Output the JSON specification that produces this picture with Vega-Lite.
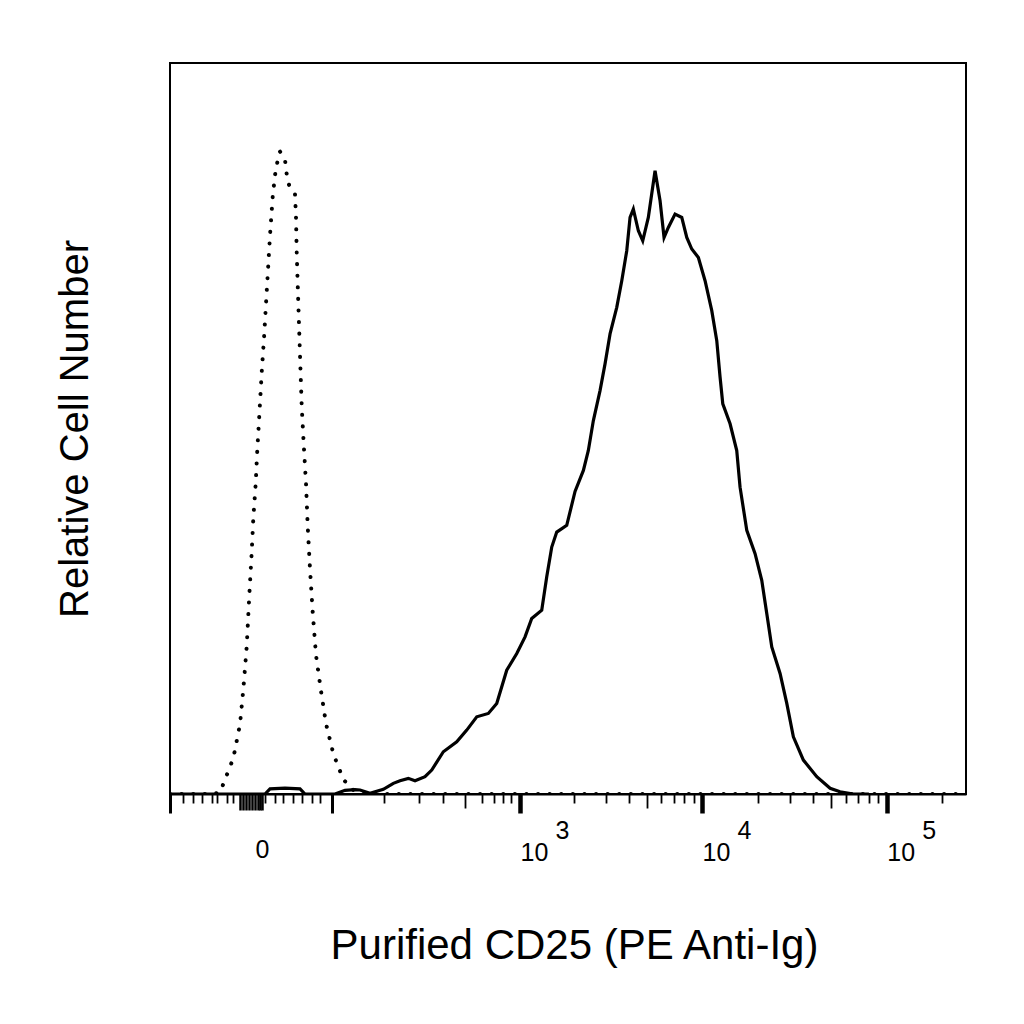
{
  "$schema": "https://vega.github.io/schema/vega-lite/v6.json",
  "autosize": {"type": "none"},
  "padding": {"left": 170, "top": 63, "right": 58, "bottom": 230},
  "width": 796,
  "height": 731,
  "background": "white",
  "config": {
    "font": "Liberation Sans",
    "view": {"stroke": "black", "strokeWidth": 2}
  },
  "data": {
    "values": [
      {"series": "isotype", "x": -90, "count": 0},
      {"series": "isotype", "x": -35.3, "count": 0},
      {"series": "isotype", "x": -28.8, "count": 0.22},
      {"series": "isotype", "x": -18.0, "count": 4.92},
      {"series": "isotype", "x": -13.2, "count": 9.6},
      {"series": "isotype", "x": -11.0, "count": 14.34},
      {"series": "isotype", "x": -8.8, "count": 20.22},
      {"series": "isotype", "x": -7.2, "count": 27.19},
      {"series": "isotype", "x": -5.75, "count": 33.06},
      {"series": "isotype", "x": -4.8, "count": 37.75},
      {"series": "isotype", "x": -3.43, "count": 42.49},
      {"series": "isotype", "x": -2.53, "count": 47.13},
      {"series": "isotype", "x": -1.44, "count": 51.82},
      {"series": "isotype", "x": -0.16, "count": 57.68},
      {"series": "isotype", "x": 1.06, "count": 62.38},
      {"series": "isotype", "x": 2.14, "count": 67.08},
      {"series": "isotype", "x": 3.26, "count": 71.75},
      {"series": "isotype", "x": 4.4, "count": 76.45},
      {"series": "isotype", "x": 5.98, "count": 81.72},
      {"series": "isotype", "x": 7.37, "count": 84.66},
      {"series": "isotype", "x": 8.81, "count": 86.41},
      {"series": "isotype", "x": 10.55, "count": 87.88},
      {"series": "isotype", "x": 13.92, "count": 86.75},
      {"series": "isotype", "x": 15.55, "count": 84.07},
      {"series": "isotype", "x": 17.5, "count": 82.92},
      {"series": "isotype", "x": 21.33, "count": 82.02},
      {"series": "isotype", "x": 22.12, "count": 78.83},
      {"series": "isotype", "x": 22.68, "count": 74.1},
      {"series": "isotype", "x": 23.98, "count": 67.08},
      {"series": "isotype", "x": 25.39, "count": 60.03},
      {"series": "isotype", "x": 26.84, "count": 53.01},
      {"series": "isotype", "x": 28.84, "count": 47.13},
      {"series": "isotype", "x": 30.62, "count": 42.49},
      {"series": "isotype", "x": 32.17, "count": 36.61},
      {"series": "isotype", "x": 34.33, "count": 30.74},
      {"series": "isotype", "x": 36.94, "count": 24.86},
      {"series": "isotype", "x": 40.25, "count": 18.99},
      {"series": "isotype", "x": 45.21, "count": 14.34},
      {"series": "isotype", "x": 51.17, "count": 9.6},
      {"series": "isotype", "x": 60.01, "count": 5.51},
      {"series": "isotype", "x": 73.54, "count": 1.98},
      {"series": "isotype", "x": 88.85, "count": 0.55},
      {"series": "isotype", "x": 112.6, "count": 0},
      {"series": "isotype", "x": 1000, "count": 0},
      {"series": "isotype", "x": 10000, "count": 0},
      {"series": "isotype", "x": 268000, "count": 0},
      {"series": "CD25", "x": -90, "count": 0},
      {"series": "CD25", "x": 1.6, "count": 0},
      {"series": "CD25", "x": 4.4, "count": 0.7},
      {"series": "CD25", "x": 13.9, "count": 0.8},
      {"series": "CD25", "x": 25.4, "count": 0.7},
      {"series": "CD25", "x": 29.7, "count": 0},
      {"series": "CD25", "x": 62.2, "count": 0},
      {"series": "CD25", "x": 76.0, "count": 0.5},
      {"series": "CD25", "x": 91.6, "count": 0.6},
      {"series": "CD25", "x": 100.2, "count": 0.55},
      {"series": "CD25", "x": 119.1, "count": 0.1},
      {"series": "CD25", "x": 148.1, "count": 0.64},
      {"series": "CD25", "x": 173.3, "count": 1.46},
      {"series": "CD25", "x": 191.9, "count": 1.82},
      {"series": "CD25", "x": 217.4, "count": 2.14},
      {"series": "CD25", "x": 240.0, "count": 1.82},
      {"series": "CD25", "x": 277.4, "count": 2.36},
      {"series": "CD25", "x": 305.2, "count": 3.28},
      {"series": "CD25", "x": 359.1, "count": 5.78},
      {"series": "CD25", "x": 431.9, "count": 7.14},
      {"series": "CD25", "x": 494.8, "count": 8.74},
      {"series": "CD25", "x": 565.9, "count": 10.56},
      {"series": "CD25", "x": 660.3, "count": 11.02},
      {"series": "CD25", "x": 737.6, "count": 12.39},
      {"series": "CD25", "x": 840.8, "count": 16.94},
      {"series": "CD25", "x": 958.4, "count": 19.22},
      {"series": "CD25", "x": 1067, "count": 21.49},
      {"series": "CD25", "x": 1163, "count": 24.0},
      {"series": "CD25", "x": 1323, "count": 25.14},
      {"series": "CD25", "x": 1410, "count": 29.69},
      {"series": "CD25", "x": 1504, "count": 33.78},
      {"series": "CD25", "x": 1603, "count": 35.83},
      {"series": "CD25", "x": 1821, "count": 36.75},
      {"series": "CD25", "x": 2024, "count": 41.39},
      {"series": "CD25", "x": 2250, "count": 44.26},
      {"series": "CD25", "x": 2396, "count": 46.99},
      {"series": "CD25", "x": 2553, "count": 51.09},
      {"series": "CD25", "x": 2778, "count": 55.19},
      {"series": "CD25", "x": 2959, "count": 58.84},
      {"series": "CD25", "x": 3152, "count": 62.94},
      {"series": "CD25", "x": 3430, "count": 66.57},
      {"series": "CD25", "x": 3654, "count": 70.22},
      {"series": "CD25", "x": 3890, "count": 74.32},
      {"series": "CD25", "x": 4055, "count": 78.87},
      {"series": "CD25", "x": 4226, "count": 80.01},
      {"series": "CD25", "x": 4501, "count": 77.05},
      {"series": "CD25", "x": 4756, "count": 75.68},
      {"series": "CD25", "x": 5101, "count": 78.87},
      {"series": "CD25", "x": 5550, "count": 85.25},
      {"series": "CD25", "x": 5910, "count": 81.15},
      {"series": "CD25", "x": 6213, "count": 76.13},
      {"series": "CD25", "x": 6557, "count": 77.5},
      {"series": "CD25", "x": 7131, "count": 79.33},
      {"series": "CD25", "x": 7754, "count": 78.87},
      {"series": "CD25", "x": 8256, "count": 76.13},
      {"series": "CD25", "x": 8788, "count": 74.55},
      {"series": "CD25", "x": 9545, "count": 73.4},
      {"series": "CD25", "x": 10378, "count": 70.22},
      {"series": "CD25", "x": 11285, "count": 66.12},
      {"series": "CD25", "x": 12012, "count": 62.02},
      {"series": "CD25", "x": 12520, "count": 57.01},
      {"series": "CD25", "x": 12950, "count": 53.37},
      {"series": "CD25", "x": 14183, "count": 50.64},
      {"series": "CD25", "x": 15414, "count": 46.99},
      {"series": "CD25", "x": 16065, "count": 41.98},
      {"series": "CD25", "x": 17469, "count": 36.07},
      {"series": "CD25", "x": 19375, "count": 32.88},
      {"series": "CD25", "x": 21059, "count": 29.23},
      {"series": "CD25", "x": 22416, "count": 24.69},
      {"series": "CD25", "x": 23860, "count": 20.12},
      {"series": "CD25", "x": 26460, "count": 16.49},
      {"series": "CD25", "x": 28770, "count": 12.39},
      {"series": "CD25", "x": 31230, "count": 7.83},
      {"series": "CD25", "x": 35380, "count": 4.64},
      {"series": "CD25", "x": 41800, "count": 2.36},
      {"series": "CD25", "x": 49350, "count": 0.78},
      {"series": "CD25", "x": 55860, "count": 0.31},
      {"series": "CD25", "x": 65940, "count": 0},
      {"series": "CD25", "x": 80000, "count": 0}
    ]
  },
  "encoding": {
    "y": {
      "field": "count",
      "type": "quantitative",
      "scale": {"domain": [0, 100], "nice": false},
      "axis": {
        "title": "Relative Cell Number",
        "titleFontSize": 40,
        "titleFontWeight": "normal",
        "titleColor": "black",
        "titleBaseline": "alphabetic",
        "titleX": -83,
        "labels": false,
        "ticks": false,
        "domain": false,
        "grid": false
      }
    }
  },
  "layer": [
    {
      "transform": [{"filter": "datum.series == 'CD25'"}],
      "mark": {"type": "line", "color": "black", "strokeWidth": 3.2, "clip": true},
      "encoding": {
        "x": {
          "field": "x",
          "type": "quantitative",
          "scale": {"type": "symlog", "constant": 42, "domain": [-90, 268000], "nice": false, "zero": false},
          "axis": {
            "orient": "bottom",
            "title": "Purified CD25 (PE Anti-Ig)",
            "titleFontSize": 42,
            "titleFontWeight": "normal",
            "titleColor": "black",
            "titleBaseline": "alphabetic",
            "titleX": 404,
            "titleY": 164,
            "grid": false,
            "domainColor": "black",
            "domainWidth": 2,
            "tickColor": "black",
            "tickSize": {
              "condition": [
                {"test": "indexof([-90, 58.4, 1000, 10000, 100000], datum.value) >= 0", "value": 19},
                {"test": "datum.value > -14 && datum.value <= 0", "value": 16},
                {"test": "indexof([483, 5000, 50000], datum.value) >= 0", "value": 14}
              ],
              "value": 9
            },
            "tickWidth": {
              "condition": [
                {"test": "indexof([1000, 10000, 100000], datum.value) >= 0", "value": 4.5},
                {"test": "indexof([-90, 58.4], datum.value) >= 0", "value": 3},
                {"test": "datum.value > -14 && datum.value <= 0", "value": 2.5}
              ],
              "value": 1.8
            },
            "labelFontSize": 25,
            "labelColor": "black",
            "labelBaseline": "top",
            "labelPadding": 27,
            "labelOverlap": false,
            "labelBound": false,
            "labelFlush": false,
            "labelAlign": {"condition": {"test": "datum.value == 0", "value": "center"}, "value": "left"},
            "values": [-90, -70, -57, -46.6, -36, -31.5, -23, -18, -13.2, -11.2, -9.3, -7.4, -5.6, -3.8, -2.1, -1.1, 0, 1.6, 7.4, 12.6, 19.8, 27.1, 36.3, 44.5, 58.4, 150, 254, 357, 483, 607, 713, 802, 889, 1000, 2000, 3000, 4000, 5000, 6000, 7000, 8000, 9000, 10000, 20000, 30000, 40000, 50000, 60000, 70000, 80000, 90000, 100000, 200000],
            "labelExpr": "datum.value == 0 ? '0' : indexof([1000, 10000, 100000], datum.value) >= 0 ? '10' : ''"
          }
        }
      }
    },
    {
      "transform": [{"filter": "datum.series == 'isotype'"}],
      "mark": {"type": "line", "color": "black", "strokeWidth": 4, "strokeDash": [0.1, 11.5], "strokeCap": "round", "clip": true},
      "encoding": {
        "x": {
          "field": "x",
          "type": "quantitative",
          "scale": {"type": "symlog", "constant": 42, "domain": [-90, 268000], "nice": false, "zero": false},
          "axis": {
            "orient": "bottom",
            "title": null,
            "grid": false,
            "domain": false,
            "ticks": false,
            "tickSize": 0,
            "values": [1000, 10000, 100000],
            "labelExpr": "datum.value == 1000 ? '3' : datum.value == 10000 ? '4' : '5'",
            "labelFontSize": 25,
            "labelColor": "black",
            "labelBaseline": "top",
            "labelAlign": "left",
            "labelOffset": 35,
            "labelPadding": 24,
            "labelOverlap": false,
            "labelBound": false,
            "labelFlush": false
          }
        }
      }
    }
  ],
  "resolve": {"axis": {"x": "independent"}}
}
